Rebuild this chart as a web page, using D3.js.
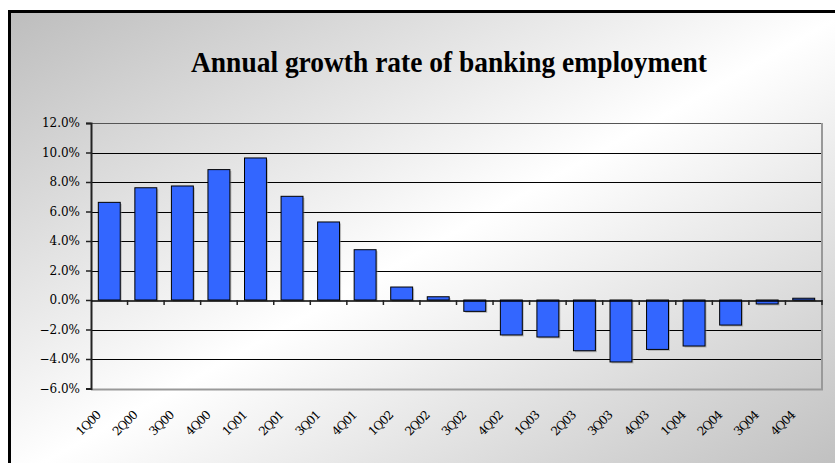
<!DOCTYPE html>
<html>
<head>
<meta charset="utf-8">
<script src="https://cdn.jsdelivr.net/npm/d3@7"></script>
<style>
  html, body { margin: 0; padding: 0; background: #fff; }
  svg { display: block; }
</style>
</head>
<body>
<script>
const quarters = ['1Q00', '2Q00', '3Q00', '4Q00', '1Q01', '2Q01', '3Q01', '4Q01', '1Q02', '2Q02',
  '3Q02', '4Q02', '1Q03', '2Q03', '3Q03', '4Q03', '1Q04', '2Q04', '3Q04', '4Q04']
const growth = [6.62, 7.61, 7.73, 8.84, 9.63, 7.03, 5.29, 3.41, 0.88, 0.22,
  -0.77, -2.37, -2.51, -3.44, -4.2, -3.35, -3.12, -1.7, -0.27, 0.12]
const yTicks = [-6, -4, -2, 0, 2, 4, 6, 8, 10, 12]
const title = 'Annual growth rate of banking employment'

const width = 835
const height = 463
const margin = { top: 123, right: 13, bottom: 74, left: 91 }

const svg = d3.select('body').append('svg')
  .attr('xmlns', 'http://www.w3.org/2000/svg')
  .attr('width', width)
  .attr('height', height)

// background gradient, grey corners and white across the middle
const grad = svg.append('defs').append('linearGradient')
  .attr('id', 'bg')
  .attr('x1', 0).attr('y1', 0).attr('x2', 1).attr('y2', 1)
grad.append('stop').attr('offset', 0).attr('stop-color', '#bdbdbd')
grad.append('stop').attr('offset', 0.5).attr('stop-color', '#ffffff')
grad.append('stop').attr('offset', 1).attr('stop-color', '#bdbdbd')

svg.append('rect')
  .attr('x', 9.5)
  .attr('y', 11.5)
  .attr('width', 840)
  .attr('height', 470)
  .attr('fill', 'url(#bg)')
  .attr('stroke', '#000')
  .attr('stroke-width', 3)

svg.append('text')
  .attr('x', 449)
  .attr('y', 72)
  .attr('text-anchor', 'middle')
  .attr('textLength', 516)
  .attr('lengthAdjust', 'spacingAndGlyphs')
  .style('font-family', '"Liberation Serif", "Times New Roman", serif')
  .style('font-weight', 'bold')
  .style('font-size', '29px')
  .text(title)

const x = d3.scaleBand()
  .domain(quarters)
  .range([margin.left, width - margin.right])
  .paddingInner(0.4)
  .paddingOuter(0.2)

const y = d3.scaleLinear()
  .domain([-6, 12])
  .range([height - margin.bottom - 0.5, margin.top])

const x0 = margin.left
const x1 = width - margin.right

// gridlines
svg.append('g')
  .selectAll('line')
  .data(yTicks.filter(d => d !== -6 && d !== 0))
  .join('line')
  .attr('x1', x0)
  .attr('x2', x1)
  .attr('y1', d => Math.round(y(d)) + 0.5)
  .attr('y2', d => Math.round(y(d)) + 0.5)
  .attr('stroke', d => d === 12 ? '#555' : '#000')
  .attr('stroke-width', 1)

// plot area frame (right and bottom)
svg.append('path')
  .attr('d', `M${x1},${Math.round(y(12))}V${Math.round(y(-6)) + 0.5}H${x0}`)
  .attr('fill', 'none')
  .attr('stroke', '#999')
  .attr('stroke-width', 2)

// bar shadows
svg.append('g')
  .selectAll('rect')
  .data(growth)
  .join('rect')
  .attr('x', (d, i) => x(quarters[i]) + 1.5)
  .attr('y', d => y(Math.max(0, d)) + 1.5)
  .attr('width', x.bandwidth())
  .attr('height', d => Math.abs(y(d) - y(0)))
  .attr('fill', '#888')
  .attr('opacity', 0.5)

// bars
svg.append('g')
  .selectAll('rect')
  .data(growth)
  .join('rect')
  .attr('x', (d, i) => x(quarters[i]))
  .attr('y', d => y(Math.max(0, d)))
  .attr('width', x.bandwidth())
  .attr('height', d => Math.abs(y(d) - y(0)))
  .attr('fill', '#3366ff')
  .attr('stroke', '#000')
  .attr('stroke-width', 1)

// y axis
const yAxis = svg.append('g')
  .attr('transform', `translate(${x0},0)`)
  .call(d3.axisLeft(y)
    .tickValues(yTicks)
    .tickSize(5)
    .tickPadding(6)
    .tickFormat(d => d3.format('.1f')(d) + '%'))
yAxis.select('.domain').attr('stroke', '#222').attr('stroke-width', 2)
yAxis.selectAll('.tick line').attr('stroke', '#222').attr('stroke-width', 1.5)
yAxis.selectAll('text')
  .style('font-family', '"DejaVu Serif", serif')
  .style('font-size', '12px')
  .attr('fill', '#000')

// zero line with category ticks
const xAxis = svg.append('g')
  .attr('transform', `translate(0,${Math.round(y(0)) + 0.5})`)
  .call(d3.axisBottom(x).tickSize(0).tickFormat(''))
xAxis.select('.domain').attr('stroke', '#000').attr('stroke-width', 1.5)
xAxis.selectAll('.tick').remove()

svg.append('g')
  .selectAll('line')
  .data(quarters)
  .join('line')
  .attr('x1', (d, i) => x0 + (i + 1) * x.step())
  .attr('x2', (d, i) => x0 + (i + 1) * x.step())
  .attr('y1', Math.round(y(0)))
  .attr('y2', Math.round(y(0)) + 5)
  .attr('stroke', '#222')
  .attr('stroke-width', 1.5)

// rotated category labels
svg.append('g')
  .selectAll('text')
  .data(quarters)
  .join('text')
  .attr('transform', d => `translate(${x(d) + x.bandwidth() / 2 - 8},${height - margin.bottom + 27}) rotate(-45)`)
  .attr('text-anchor', 'end')
  .style('font-family', '"DejaVu Serif", serif')
  .style('font-size', '12px')
  .style('letter-spacing', '-1px')
  .text(d => d)
</script>
</body>
</html>
